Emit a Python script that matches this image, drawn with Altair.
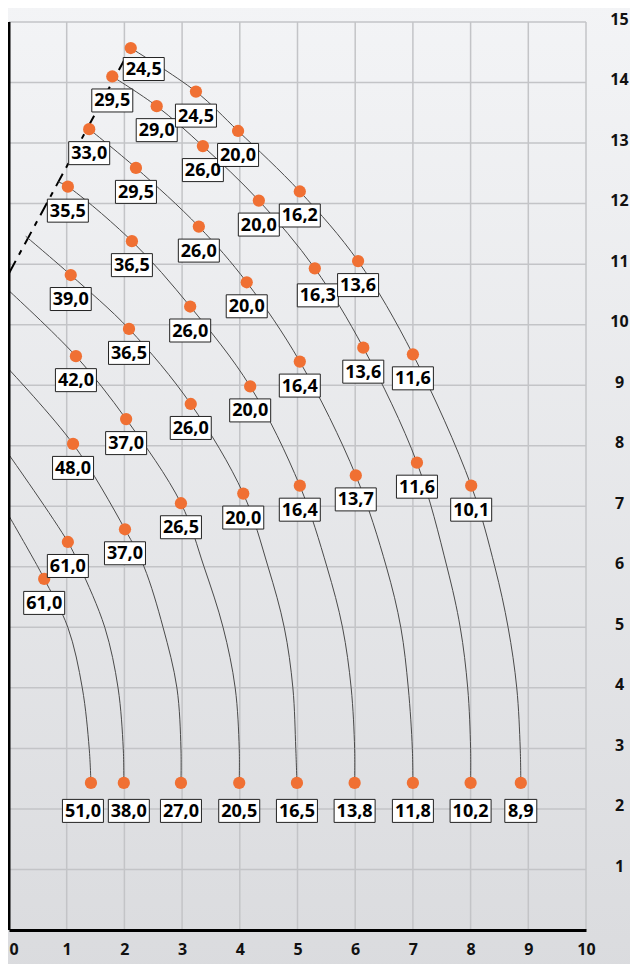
import altair as alt
import pandas as pd

# ---------------- data ----------------
x_ticks = list(range(0, 11))
y_ticks = list(range(1, 16))

# boom curves, 1 = innermost: radius (m), height (m), load (t) of every dot
c1_x = [0.61, 1.42]
c1_y = [5.80, 2.43]
c1_load = [61.0, 51.0]
c2_x = [1.02, 1.99]
c2_y = [6.41, 2.43]
c2_load = [61.0, 38.0]
c3_x = [1.11, 2.01, 2.98]
c3_y = [8.03, 6.62, 2.43]
c3_load = [48.0, 37.0, 27.0]
c4_x = [1.16, 2.03, 2.98, 3.99]
c4_y = [9.48, 8.44, 7.05, 2.43]
c4_load = [42.0, 37.0, 26.5, 20.5]
c5_x = [1.07, 2.08, 3.15, 4.06, 4.99]
c5_y = [10.82, 9.93, 8.69, 7.21, 2.43]
c5_load = [39.0, 36.5, 26.0, 20.0, 16.5]
c6_x = [1.02, 2.13, 3.14, 4.18, 5.04, 5.99]
c6_y = [12.28, 11.38, 10.30, 8.98, 7.34, 2.43]
c6_load = [35.5, 36.5, 26.0, 20.0, 16.4, 13.8]
c7_x = [1.39, 2.20, 3.29, 4.12, 5.04, 6.01, 7.00]
c7_y = [13.23, 12.59, 11.62, 10.70, 9.39, 7.51, 2.43]
c7_load = [33.0, 29.5, 26.0, 20.0, 16.4, 13.7, 11.8]
c8_x = [1.79, 2.56, 3.36, 4.33, 5.30, 6.14, 7.07, 8.00]
c8_y = [14.10, 13.61, 12.95, 12.05, 10.93, 9.62, 7.72, 2.43]
c8_load = [29.5, 29.0, 26.0, 20.0, 16.3, 13.6, 11.6, 10.2]
c9_x = [2.11, 3.24, 3.97, 5.04, 6.05, 7.00, 8.01, 8.87]
c9_y = [14.57, 13.85, 13.20, 12.20, 11.05, 9.51, 7.34, 2.43]
c9_load = [24.5, 24.5, 20.0, 16.2, 13.6, 11.6, 10.1, 8.9]

# extra points (where it leaves the limit line / crosses grid rows)
t1_x = [0.00, 0.50, 1.02, 1.27, 1.39]
t1_y = [6.84, 6.0, 5.0, 4.0, 3.0]
t2_x = [0.00, 1.23, 1.66, 1.89, 1.98]
t2_y = [7.85, 6.0, 5.0, 4.0, 3.0]
t3_x = [0.00, 2.34, 2.67, 2.91, 2.98]
t3_y = [9.26, 6.0, 5.0, 4.0, 3.0]
t4_x = [0.00, 3.38, 3.71, 3.92, 3.99]
t4_y = [10.56, 6.0, 5.0, 4.0, 3.0]
t5_x = [0.29, 4.49, 4.77, 4.92, 4.97]
t5_y = [11.46, 6.0, 5.0, 4.0, 3.0]
t6_x = [0.85, 5.51, 5.78, 5.93, 5.99]
t6_y = [12.36, 6.0, 5.0, 4.0, 3.0]
t7_x = [6.54, 6.79, 6.92, 6.99]
t7_y = [6.0, 5.0, 4.0, 3.0]
t8_x = [7.59, 7.82, 7.95, 8.00]
t8_y = [6.0, 5.0, 4.0, 3.0]
t9_x = [8.42, 8.65, 8.80, 8.86]
t9_y = [6.0, 5.0, 4.0, 3.0]

# dashed limit line
limit_x = [0.00, 2.11]
limit_y = [10.85, 14.57]

# ---------------- layout / style ----------------
W, H = 577, 908
PX_X, PX_Y = W / 10.0, H / 15.0
label_nudge = {(9, 0): (13, 21), (1, 1): (-8, 28), (2, 1): (5, 28), (8, 4): (3, 27)}

dots_src = [(c1_x, c1_y, c1_load), (c2_x, c2_y, c2_load), (c3_x, c3_y, c3_load),
            (c4_x, c4_y, c4_load), (c5_x, c5_y, c5_load), (c6_x, c6_y, c6_load),
            (c7_x, c7_y, c7_load), (c8_x, c8_y, c8_load), (c9_x, c9_y, c9_load)]
trace_src = [(t1_x, t1_y), (t2_x, t2_y), (t3_x, t3_y), (t4_x, t4_y), (t5_x, t5_y),
             (t6_x, t6_y), (t7_x, t7_y), (t8_x, t8_y), (t9_x, t9_y)]

dot_rows, path_rows = [], []
for ci, (xs_, ys_, ls_) in enumerate(dots_src, start=1):
    n = len(xs_)
    for i, (x, y, l) in enumerate(zip(xs_, ys_, ls_)):
        dx, dy = label_nudge.get((ci, i), (0, 28 if i == n - 1 else 24))
        lab = f"{l:.1f}".replace(".", ",")
        dot_rows.append(dict(curve=ci, x=x, y=y, label=lab, nch=str(len(lab)),
                             lx=x + dx / PX_X, ly=y - dy / PX_Y))
        path_rows.append(dict(curve=ci, x=x, y=y))
for ci, (xs_, ys_) in enumerate(trace_src, start=1):
    for x, y in zip(xs_, ys_):
        path_rows.append(dict(curve=ci, x=x, y=y))

dots = pd.DataFrame(dot_rows)
paths = pd.DataFrame(path_rows)
limit = pd.DataFrame({"x": limit_x, "y": limit_y})

FONT = "Open Sans"
xsc = alt.Scale(domain=[0, 10], nice=False, zero=False)
ysc = alt.Scale(domain=[0, 15], nice=False, zero=False)

xax = alt.Axis(orient="bottom", values=x_ticks, grid=False, domain=True, domainColor="black",
               domainWidth=3, ticks=False, tickSize=0, labelPadding=11, labelBaseline="top",
               labelAlign={"condition": {"test": "datum.value === 0", "value": "left"}, "value": "center"},
               labelFont=FONT, labelFontWeight="bold", labelFontSize=16, labelColor="#111111",
               labelFlush=False, labelOverlap=False, zindex=1, title=None)
yax = alt.Axis(orient="right", values=y_ticks, grid=False, domain=False, ticks=False, tickSize=0,
               labelPadding=33, labelAlign="center", labelBaseline="alphabetic", labelOffset=2,
               labelFont=FONT, labelFontWeight="bold", labelFontSize=16, labelColor="#111111",
               labelFlush=False, labelOverlap=False, zindex=1, title=None)

X = lambda f="x": alt.X(f"{f}:Q", scale=xsc, axis=xax, title=None)
Y = lambda f="y": alt.Y(f"{f}:Q", scale=ysc, axis=yax, title=None)

bg = alt.Chart(pd.DataFrame({"a": [0]})).mark_rect(
    color=alt.LinearGradient(gradient="linear", x1=0, x2=0, y1=0, y2=1,
                             stops=[alt.GradientStop(color="#f3f4f6", offset=0),
                                    alt.GradientStop(color="#dadbde", offset=1)])
).encode(x=alt.value(-10), x2=alt.value(W + 70), y=alt.value(-20), y2=alt.value(H + 50))

vgrid = alt.Chart(pd.DataFrame({"x": x_ticks})).mark_rule(color="#c3c4c7", strokeWidth=1.5).encode(x=X())
hgrid = alt.Chart(pd.DataFrame({"y": [0] + y_ticks})).mark_rule(color="#c3c4c7", strokeWidth=1.5).encode(y=Y())

left_axis = alt.Chart(pd.DataFrame({"x": [0]})).mark_rule(color="black", strokeWidth=3).encode(x=X())

limit_line = alt.Chart(limit).mark_line(color="black", strokeWidth=2, strokeDash=[14, 7, 5, 7]).encode(
    x=X(), y=Y())

curves = alt.Chart(paths).mark_line(color="#4a4a4a", strokeWidth=1, interpolate="catmull-rom").encode(
    x=X(), y=Y(), detail="curve:N", order=alt.Order("y:Q", sort="descending"))

pts = alt.Chart(dots).mark_circle(size=150, color="#f07033", opacity=1).encode(x=X(), y=Y())

box4 = "M-1,-0.561H1V0.561H-1Z"
box3 = "M-0.78,-0.561H0.78V0.561H-0.78Z"
boxes = alt.Chart(dots).mark_point(filled=True, color="white", fill="white", stroke="#222222",
                                   strokeWidth=1, size=1681, opacity=1).encode(
    x=X("lx"), y=Y("ly"),
    shape=alt.Shape("nch:N", scale=alt.Scale(domain=["3", "4"], range=[box3, box4]), legend=None))

texts = alt.Chart(dots).mark_text(font=FONT, fontWeight="bold", fontSize=18, color="black",
                                  align="center", baseline="middle", dy=1).encode(
    x=X("lx"), y=Y("ly"), text="label:N")

chart = alt.layer(bg, vgrid, hgrid, limit_line, curves, left_axis, pts, boxes, texts).properties(
    width=W, height=H,
    padding={"left": 1, "top": 14, "right": 44, "bottom": 34},
    autosize=alt.AutoSizeParams(type="none"),
    background="#e6e7ea",
).configure_view(stroke=None)

chart.save("out.html", embed_options={"renderer": "svg", "actions": False})
